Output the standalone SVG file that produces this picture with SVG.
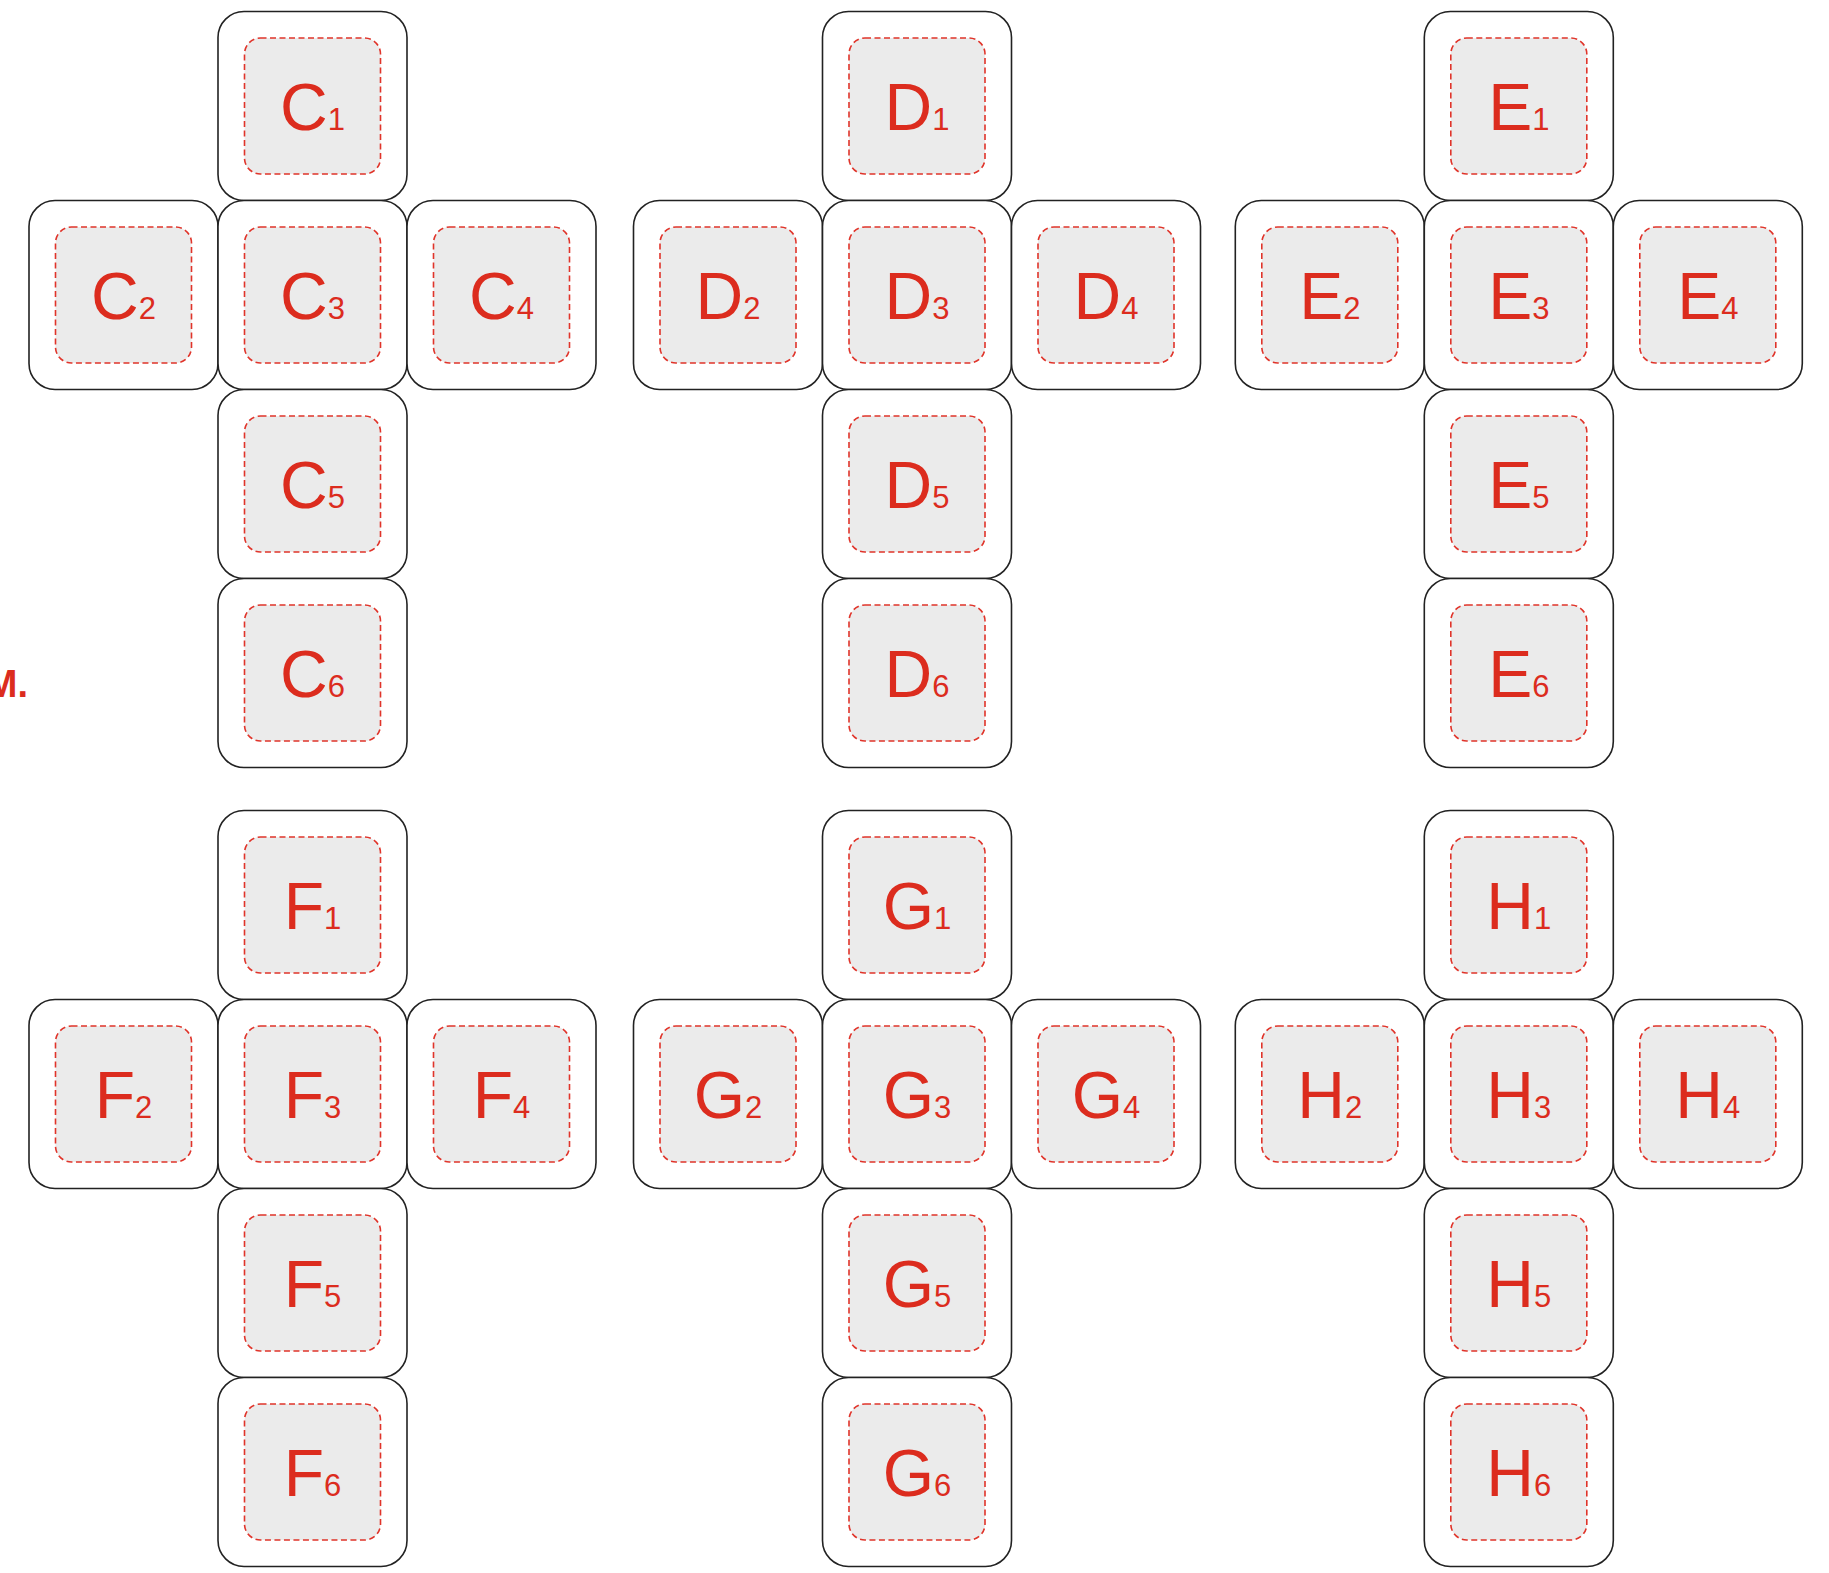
<svg xmlns="http://www.w3.org/2000/svg" width="1829" height="1573" viewBox="0 0 1829 1573">
<style>
.outer{fill:#ffffff;stroke:#222222;stroke-width:1.6}
.inner{fill:#ebebeb;stroke:#e0342a;stroke-width:1.6;stroke-dasharray:6 3.5}
.lbl{font-family:"Liberation Sans",Arial,sans-serif;font-size:66px;fill:#dc2c1e;text-anchor:middle}
.sub{font-size:31px}
.note{font-family:"Liberation Sans",Arial,sans-serif;font-size:38px;font-weight:bold;fill:#dc2c1e;text-anchor:end}
</style>
<defs>
<g id="key">
<rect class="outer" x="0" y="0" width="189" height="189" rx="26" ry="26"/>
<rect class="inner" x="26.5" y="26.5" width="136" height="136" rx="16" ry="16"/>
</g>
</defs>
<rect x="0" y="0" width="1829" height="1573" fill="#ffffff"/>
<g id="connectors"></g>
<text class="note" x="28" y="697">M.</text>
<g id="C1" transform="translate(218,11.5)"><use href="#key"/><text class="lbl" x="94.5" y="118">C<tspan class="sub">1</tspan></text></g>
<g id="C2" transform="translate(29,200.5)"><use href="#key"/><text class="lbl" x="94.5" y="118">C<tspan class="sub">2</tspan></text></g>
<g id="C3" transform="translate(218,200.5)"><use href="#key"/><text class="lbl" x="94.5" y="118">C<tspan class="sub">3</tspan></text></g>
<g id="C4" transform="translate(407,200.5)"><use href="#key"/><text class="lbl" x="94.5" y="118">C<tspan class="sub">4</tspan></text></g>
<g id="C5" transform="translate(218,389.5)"><use href="#key"/><text class="lbl" x="94.5" y="118">C<tspan class="sub">5</tspan></text></g>
<g id="C6" transform="translate(218,578.5)"><use href="#key"/><text class="lbl" x="94.5" y="118">C<tspan class="sub">6</tspan></text></g>
<g id="D1" transform="translate(822.5,11.5)"><use href="#key"/><text class="lbl" x="94.5" y="118">D<tspan class="sub">1</tspan></text></g>
<g id="D2" transform="translate(633.5,200.5)"><use href="#key"/><text class="lbl" x="94.5" y="118">D<tspan class="sub">2</tspan></text></g>
<g id="D3" transform="translate(822.5,200.5)"><use href="#key"/><text class="lbl" x="94.5" y="118">D<tspan class="sub">3</tspan></text></g>
<g id="D4" transform="translate(1011.5,200.5)"><use href="#key"/><text class="lbl" x="94.5" y="118">D<tspan class="sub">4</tspan></text></g>
<g id="D5" transform="translate(822.5,389.5)"><use href="#key"/><text class="lbl" x="94.5" y="118">D<tspan class="sub">5</tspan></text></g>
<g id="D6" transform="translate(822.5,578.5)"><use href="#key"/><text class="lbl" x="94.5" y="118">D<tspan class="sub">6</tspan></text></g>
<g id="E1" transform="translate(1424.3,11.5)"><use href="#key"/><text class="lbl" x="94.5" y="118">E<tspan class="sub">1</tspan></text></g>
<g id="E2" transform="translate(1235.3,200.5)"><use href="#key"/><text class="lbl" x="94.5" y="118">E<tspan class="sub">2</tspan></text></g>
<g id="E3" transform="translate(1424.3,200.5)"><use href="#key"/><text class="lbl" x="94.5" y="118">E<tspan class="sub">3</tspan></text></g>
<g id="E4" transform="translate(1613.3,200.5)"><use href="#key"/><text class="lbl" x="94.5" y="118">E<tspan class="sub">4</tspan></text></g>
<g id="E5" transform="translate(1424.3,389.5)"><use href="#key"/><text class="lbl" x="94.5" y="118">E<tspan class="sub">5</tspan></text></g>
<g id="E6" transform="translate(1424.3,578.5)"><use href="#key"/><text class="lbl" x="94.5" y="118">E<tspan class="sub">6</tspan></text></g>
<g id="F1" transform="translate(218,810.5)"><use href="#key"/><text class="lbl" x="94.5" y="118">F<tspan class="sub">1</tspan></text></g>
<g id="F2" transform="translate(29,999.5)"><use href="#key"/><text class="lbl" x="94.5" y="118">F<tspan class="sub">2</tspan></text></g>
<g id="F3" transform="translate(218,999.5)"><use href="#key"/><text class="lbl" x="94.5" y="118">F<tspan class="sub">3</tspan></text></g>
<g id="F4" transform="translate(407,999.5)"><use href="#key"/><text class="lbl" x="94.5" y="118">F<tspan class="sub">4</tspan></text></g>
<g id="F5" transform="translate(218,1188.5)"><use href="#key"/><text class="lbl" x="94.5" y="118">F<tspan class="sub">5</tspan></text></g>
<g id="F6" transform="translate(218,1377.5)"><use href="#key"/><text class="lbl" x="94.5" y="118">F<tspan class="sub">6</tspan></text></g>
<g id="G1" transform="translate(822.5,810.5)"><use href="#key"/><text class="lbl" x="94.5" y="118">G<tspan class="sub">1</tspan></text></g>
<g id="G2" transform="translate(633.5,999.5)"><use href="#key"/><text class="lbl" x="94.5" y="118">G<tspan class="sub">2</tspan></text></g>
<g id="G3" transform="translate(822.5,999.5)"><use href="#key"/><text class="lbl" x="94.5" y="118">G<tspan class="sub">3</tspan></text></g>
<g id="G4" transform="translate(1011.5,999.5)"><use href="#key"/><text class="lbl" x="94.5" y="118">G<tspan class="sub">4</tspan></text></g>
<g id="G5" transform="translate(822.5,1188.5)"><use href="#key"/><text class="lbl" x="94.5" y="118">G<tspan class="sub">5</tspan></text></g>
<g id="G6" transform="translate(822.5,1377.5)"><use href="#key"/><text class="lbl" x="94.5" y="118">G<tspan class="sub">6</tspan></text></g>
<g id="H1" transform="translate(1424.3,810.5)"><use href="#key"/><text class="lbl" x="94.5" y="118">H<tspan class="sub">1</tspan></text></g>
<g id="H2" transform="translate(1235.3,999.5)"><use href="#key"/><text class="lbl" x="94.5" y="118">H<tspan class="sub">2</tspan></text></g>
<g id="H3" transform="translate(1424.3,999.5)"><use href="#key"/><text class="lbl" x="94.5" y="118">H<tspan class="sub">3</tspan></text></g>
<g id="H4" transform="translate(1613.3,999.5)"><use href="#key"/><text class="lbl" x="94.5" y="118">H<tspan class="sub">4</tspan></text></g>
<g id="H5" transform="translate(1424.3,1188.5)"><use href="#key"/><text class="lbl" x="94.5" y="118">H<tspan class="sub">5</tspan></text></g>
<g id="H6" transform="translate(1424.3,1377.5)"><use href="#key"/><text class="lbl" x="94.5" y="118">H<tspan class="sub">6</tspan></text></g>
</svg>
